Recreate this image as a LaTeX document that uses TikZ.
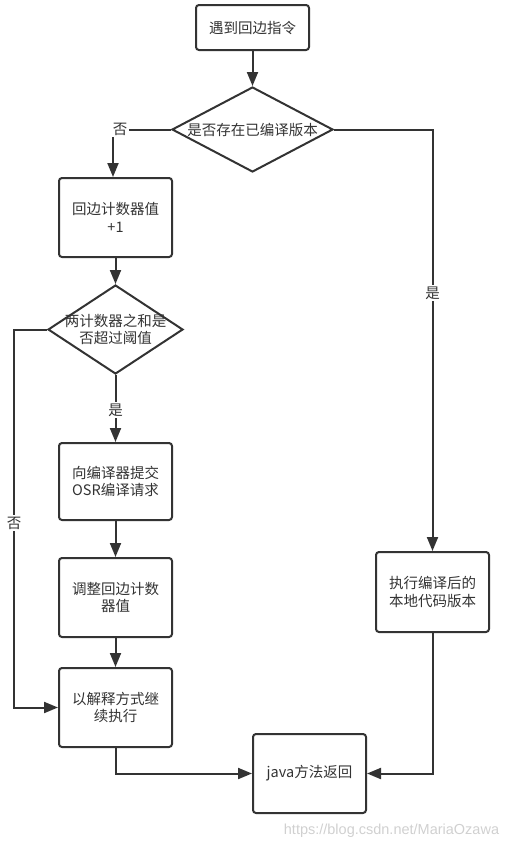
\documentclass[tikz,border=0pt]{standalone}
\usepackage{fontspec}
\setmainfont{Noto Sans CJK SC}
\newfontfamily\wmfont{Liberation Sans}
\usetikzlibrary{arrows.meta,shapes.geometric}
\definecolor{ln}{HTML}{333333}
\definecolor{wm}{HTML}{D0D0D0}
\tikzset{
  box/.style={draw=ln, line width=2pt, rounded corners=3pt, minimum width=113pt, minimum height=79pt, inner sep=0pt, align=center, text=ln, font=\fontsize{14.5}{17.5}\selectfont},
  dia/.style={draw=ln, line width=2pt, diamond, inner sep=0pt},
  lbl/.style={text=ln, align=center, font=\fontsize{14.5}{17.5}\selectfont},
  con/.style={draw=ln, line width=2pt},
  arr/.style={con, -{Triangle[length=14pt,width=11pt]}},
  yn/.style={text=ln, fill=white, inner sep=1.5pt, font=\fontsize{14.5}{17.5}\selectfont}
}
\begin{document}
\begin{tikzpicture}[x=1pt,y=-1pt]
\useasboundingbox (0,0) rectangle (518,849);
\node[box, minimum height=45pt] (start) at (252.5,27.5) {遇到回边指令};
\node[dia, minimum width=161pt, minimum height=85pt] (d1) at (252.5,129.5) {};
\node[lbl] at (d1) {是否存在已编译版本};
\node[box] (b2) at (115.5,217.5) {回边计数器值\\+1};
\node[dia, minimum width=135pt, minimum height=89pt] (d2) at (115.5,329.5) {};
\node[lbl] at (d2) {两计数器之和是\\否超过阈值};
\node[box, minimum height=77pt] (b3) at (115.5,481.5) {向编译器提交\\OSR编译请求};
\node[box] (b4) at (115.5,597.5) {调整回边计数\\器值};
\node[box] (b5) at (115.5,707.5) {以解释方式继\\续执行};
\node[box] (b6) at (309.5,773.5) {java方法返回};
\node[box, minimum height=80pt] (b7) at (432.5,592) {执行编译后的\\本地代码版本};
\node[yn] (no1) at (120,129.5) {否};
\coordinate (L) at (14,707.5);
\node[text=wm, font=\wmfont\fontsize{14.5}{17}\selectfont] (wmk) at (391.5,831) {https://blog.csdn.net/MariaOzawa};

\draw[arr] (start) -- (d1.north);
\draw[con] (d1.west) -- (no1.east);
\draw[arr] (no1.south -| 113,0) -- (b2.north -| 113,0);
\draw[arr] (d1.east) -| node[yn, pos=0.694] {是} (b7.north);
\draw[arr] (b2) -- (d2.north);
\draw[arr] (d2.south) -- node[yn, pos=0.52] {是} (b3.north);
\draw[arr] (d2.west) -| node[yn, pos=0.756] {否} (L) -- (b5.west);
\draw[arr] (b3) -- (b4);
\draw[arr] (b4) -- (b5);
\draw[arr] (b5.south) |- (b6.west);
\draw[arr] (b7.south) |- (b6.east);
\end{tikzpicture}
\end{document}
